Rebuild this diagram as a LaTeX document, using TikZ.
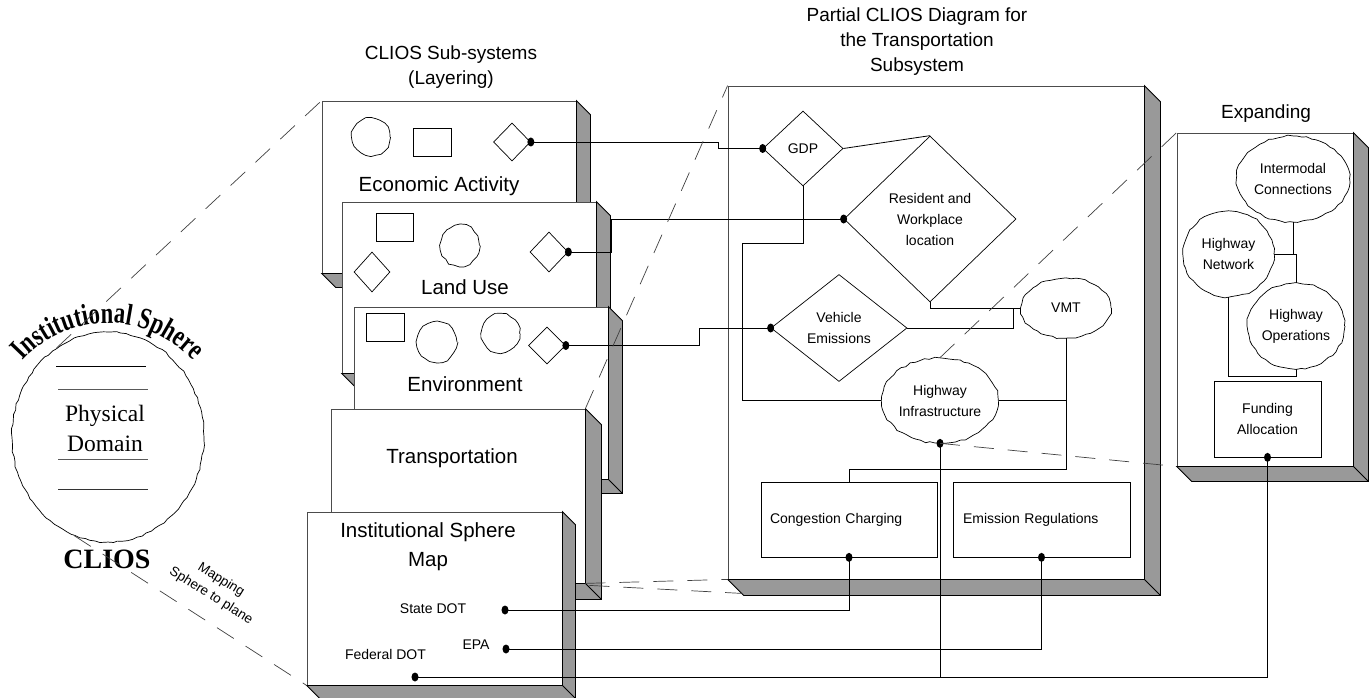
\documentclass[tikz,border=0pt]{standalone}
\usepackage{fontspec}
\setmainfont{Liberation Sans}
\newfontfamily\timesfont{Liberation Serif}
\newfontfamily\sphfamily[FakeStretch=0.75]{Liberation Serif}
\usetikzlibrary{shapes.geometric,calc,decorations.pathmorphing,decorations.text}
\newcommand\fsmall{\fontsize{14}{21}\selectfont}
\newcommand\ftitle{\fontsize{19}{25}\selectfont}
\newcommand\flayer{\fontsize{20.5}{29}\selectfont}
\newcommand\sphfont{\sphfamily\bfseries\fontsize{30}{30}\selectfont}
\definecolor{shadowgray}{gray}{0.6}
\definecolor{edgegray}{gray}{0.3}
\newcommand\boxshadow[2]{%
  \filldraw[fill=shadowgray, draw=black, line width=0.8pt] (#1.north east) -- ++(#2,#2) -- ($(#1.south east)+(#2,#2)$) -- ($(#1.south west)+(#2,#2)$) -- (#1.south west) -- (#1.south east) -- cycle;
  \draw[line width=0.8pt] (#1.south east) -- ++(#2,#2);}
\newcommand\blob[1]{\fill (#1) ellipse[x radius=3.5, y radius=4.5];}
\begin{document}
\begin{tikzpicture}[x=1pt, y=-1pt,
  layerbox/.style={draw=edgegray, fill=white, line width=0.8pt, inner sep=0pt},
  dia/.style={diamond, draw=black, fill=white, line width=0.7pt, inner sep=0pt, font=\fsmall, align=center},
  srect/.style={draw=black, line width=0.7pt, inner sep=0pt},
  cloudy/.style={ellipse, draw=black, fill=white, line width=0.7pt, inner sep=0pt, font=\fsmall, align=center, decorate, decoration={random steps, segment length=5pt, amplitude=0.9pt}},
  tbox/.style={draw=black, fill=white, line width=0.7pt, inner sep=0pt, font=\fsmall, align=center},
  lbl/.style={inner sep=0pt, align=center},
  conn/.style={draw=black, line width=0.8pt},
  proj/.style={draw=black!75, line width=0.7pt, dash pattern=on 20pt off 14pt},
]
\pgfmathsetseed{7}
\useasboundingbox (0,0) rectangle (1369,698);

% titles
\node[lbl, font=\ftitle] (t1) at (451,67) {CLIOS Sub-systems\\(Layering)};
\node[lbl, font=\ftitle] (t2) at (917,42) {Partial CLIOS Diagram for\\the Transportation\\Subsystem};
\node[lbl, font=\ftitle] (t3) at (1266,114) {Expanding};

% Economic Activity layer
\node[layerbox, minimum width=254pt, minimum height=172pt] (eco) at (449,187) {};
\boxshadow{eco}{14}
\node[cloudy, minimum width=38pt, minimum height=38pt] (ecoC) at (371,137) {};
\node[srect, minimum width=38pt, minimum height=28pt] (ecoR) at (432,142) {};
\node[dia, minimum width=37pt, minimum height=38pt] (ecoD) at (512,142) {};
\node[lbl, font=\flayer] (ecoT) at (439,186) {Economic Activity};

% Land Use layer
\node[layerbox, minimum width=254pt, minimum height=171pt] (land) at (469,287.5) {};
\boxshadow{land}{14}
\node[srect, minimum width=37pt, minimum height=28pt] (luR) at (394.5,227) {};
\node[dia, minimum width=36pt, minimum height=40pt] (luD1) at (372,272) {};
\node[cloudy, minimum width=39pt, minimum height=41pt] (luC) at (460,245.5) {};
\node[dia, minimum width=38pt, minimum height=40pt] (luD2) at (549,252) {};
\node[lbl, font=\flayer] (luT) at (465,287) {Land Use};

% Environment layer
\node[layerbox, minimum width=254pt, minimum height=172pt] (env) at (481,393) {};
\boxshadow{env}{14}
\node[srect, minimum width=38pt, minimum height=28pt] (enR) at (385,327) {};
\node[cloudy, minimum width=40pt, minimum height=40pt] (enC1) at (437,342) {};
\node[cloudy, minimum width=38pt, minimum height=39pt] (enC2) at (500.5,333.5) {};
\node[dia, minimum width=37pt, minimum height=37pt] (enD) at (547,345.5) {};
\node[lbl, font=\flayer] (enT) at (465,384) {Environment};

% Transportation layer
\node[layerbox, minimum width=254pt, minimum height=174pt] (trans) at (458,496) {};
\boxshadow{trans}{16}
\node[lbl, font=\flayer] (trT) at (452,458) {Transportation};

% Institutional Sphere Map layer
\node[layerbox, minimum width=255pt, minimum height=173pt] (map) at (434.5,598.5) {};
\boxshadow{map}{13}
\node[lbl, font=\flayer] (mapT) at (428,547) {Institutional Sphere\\Map};
\node[lbl, font=\fsmall] (sdotT) at (433,609) {State DOT};
\node[lbl, font=\fsmall] (epaT) at (476,645) {EPA};
\node[lbl, font=\fsmall] (fdotT) at (385.5,654) {Federal DOT};
\coordinate (sdot) at (505,610);
\coordinate (edot) at (506,649);
\coordinate (fdot) at (415,677);

% Partial CLIOS diagram box and Expanding box
\node[layerbox, minimum width=416pt, minimum height=493pt] (part) at (936,332.5) {};
\boxshadow{part}{16}
\node[layerbox, minimum width=176pt, minimum height=333pt] (exp) at (1265,299.5) {};
\boxshadow{exp}{15}

\node[dia, minimum width=80pt, minimum height=75pt] (gdp) at (803,148.5) {GDP};
\node[dia, minimum width=172pt, minimum height=166pt] (res) at (930,219) {Resident and\\Workplace\\location};
\node[dia, minimum width=136pt, minimum height=107pt] (veh) at (839,328) {Vehicle\\Emissions};
\node[cloudy, minimum width=90pt, minimum height=60pt] (vmt) at (1066,308) {VMT};
\node[cloudy, minimum width=114pt, minimum height=85pt] (hwi) at (940,400.5) {Highway\\Infrastructure};
\node[tbox, minimum height=75pt, text width=158pt, inner xsep=9pt, align=left] (cong) at (849,519.5) {Congestion Charging};
\node[tbox, minimum height=75pt, text width=157pt, inner xsep=10pt, align=left] (emi) at (1041.5,519.5) {Emission Regulations};

\node[cloudy, minimum width=113pt, minimum height=86pt] (imc) at (1293,179) {Intermodal\\Connections};
\node[cloudy, minimum width=91pt, minimum height=86pt] (hwn) at (1228.5,254) {Highway\\Network};
\node[cloudy, minimum width=95pt, minimum height=86pt] (hwo) at (1296,326) {Highway\\Operations};
\node[tbox, minimum width=107pt, minimum height=76pt] (fund) at (1267.5,419) {Funding\\Allocation};

% connectors
\draw[conn] (ecoD.east) -- ++(188,0) |- (gdp.west);
\draw[conn] (luD2.east) -- ++(43,0) |- (res.west);
\draw[conn] (enD.east) -- ++(134,0) |- (veh.west);
\draw[conn] (gdp.east) -- (res.north);
\draw[conn] (gdp.south) -- ++(0,57) -- ++(-61,0) |- (hwi.west);
\draw[conn] (res.south) |- (vmt.west);
\draw[conn] (veh.east) -- ++(106,0) -- ++(0,-20);
\draw[conn] (hwi.east) -| (vmt.south);
\draw[conn] (vmt.south) -- ++(0,131) -| (cong.north);
\draw[conn] (hwi.south) -- (hwi.south |- fdot);
\draw[conn] (sdot) -| (cong.south);
\draw[conn] (edot) -| (emi.south);
\draw[conn] (fdot) -| (fund.south);
\draw[conn] (imc.south) |- (hwn.east);
\draw[conn] (hwn.east) -| (hwo.north);
\draw[conn] (hwn.south) -- ++(0,79) -| (hwo.south);

% connection dots
\blob{ecoD.east}
\blob{gdp.west}
\blob{luD2.east}
\blob{res.west}
\blob{enD.east}
\blob{veh.west}
\blob{hwi.south}
\blob{sdot}
\blob{cong.south}
\blob{edot}
\blob{emi.south}
\blob{fdot}
\blob{fund.south}

% sphere
\node[ellipse, draw=black, line width=0.7pt, minimum width=192pt, minimum height=210pt, inner sep=0pt, decorate, decoration={random steps, segment length=5pt, amplitude=0.8pt}] (sphere) at (108,437) {};
\draw[line width=0.8pt] (56,366) -- (146,366);
\draw[line width=0.8pt, black!65] (58,389) -- (148,389);
\draw[line width=0.8pt, black!65] (58,459) -- (148,459);
\draw[line width=0.8pt, black!80] (58,489) -- (148,489);
\node[lbl, font=\timesfont\fontsize{23.5}{30}\selectfont] (phys) at (105,428) {Physical\\Domain};
\node[lbl, font=\timesfont\bfseries\fontsize{28}{28}\selectfont] (clios) at (107,559) {CLIOS};
\path[decorate, decoration={text along path, text align=center, text={|\sphfont|Institutional Sphere}}] (sphere.center) ++(212:114) arc[start angle=212, end angle=328, radius=114];
\node[lbl, rotate=-32, font=\fontsize{13.5}{19}\selectfont] (maplbl) at (216,588) {Mapping\\Sphere to plane};

% projection lines
\draw[proj] (sphere.120) -- (eco.north west);
\draw[proj] (sphere.251) -- (map.south west);
\draw[proj] (trans.north east) -- (part.north west);
\draw[proj] (trans.south east) -- (part.south west);
\draw[proj] ($(trans.south east)+(4,2)$) -- ($(part.south west)+(14,14)$);
\draw[proj] (hwi.north) -- (exp.north west);
\draw[proj] (hwi.south) -- (exp.south west);
\end{tikzpicture}
\end{document}
